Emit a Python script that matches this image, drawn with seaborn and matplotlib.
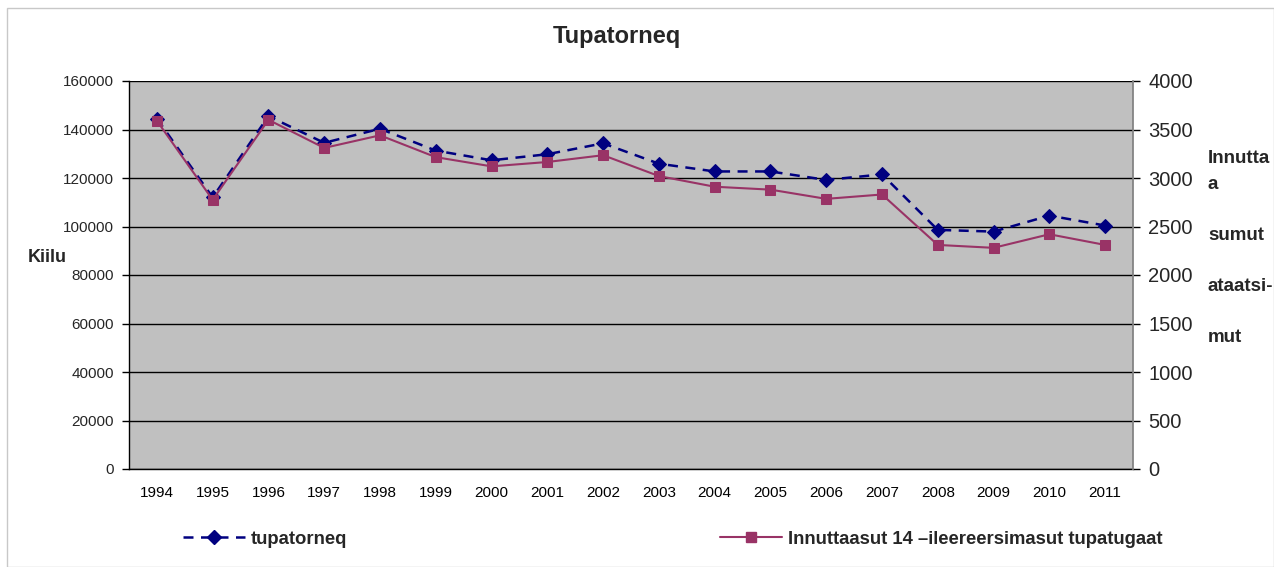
import numpy as np
import pandas as pd
import matplotlib
matplotlib.use("Agg")
import matplotlib.pyplot as plt
import seaborn as sns
from matplotlib.lines import Line2D
from matplotlib.patches import Rectangle

years = [str(y) for y in range(1994, 2012)]
tupatorneq = [144500, 112000, 145500, 134500, 140300, 131300, 127300, 129800, 134300,
              125900, 122700, 122700, 119200, 121500, 98600, 97900, 104500, 100400]
innuttaasut = [3590, 2775, 3600, 3310, 3440, 3215, 3120, 3165, 3235,
               3020, 2910, 2880, 2785, 2830, 2310, 2280, 2420, 2310]

name_left = "tupatorneq"
name_right = "Innuttaasut 14 \u2013ileereersimasut tupatugaat"

df = pd.DataFrame({"year": years, "x": np.arange(len(years)),
                   "left": tupatorneq, "right": innuttaasut})

sns.set_theme(style="white")
plt.rcParams["font.family"] = ["Liberation Sans", "DejaVu Sans"]

fig = plt.figure(figsize=(12.74, 5.67), dpi=100)
ax = fig.add_axes([129 / 1274, 1 - 469 / 567, 1004 / 1274, 388 / 567])
ax.set_facecolor("#c0c0c0")

blue = "#000080"
pink = "#993366"

sns.lineplot(data=df, x="x", y="left", ax=ax, color=blue, marker="D", markersize=7,
             markeredgecolor=blue, linewidth=1.8, legend=False)
ax.lines[-1].set_dashes((4, 3))

ax.set_ylim(0, 160000)
ax.set_yticks(np.arange(0, 160001, 20000))
ax.set_xlim(-0.5, len(years) - 0.5)
ax.set_xticks(df["x"])
ax.set_xticklabels(years)
ax.set_xticks(np.arange(-0.5, len(years), 1), minor=True)
ax.tick_params(axis="x", which="major", length=0, labelsize=11, pad=12, colors="black")
ax.tick_params(axis="x", which="minor", length=5, width=1, color="black", direction="out")
ax.tick_params(axis="y", length=5, width=1, color="black", direction="out", labelsize=11, pad=6)
ax.grid(axis="y", color="black", linewidth=1)
ax.set_axisbelow(True)
ax.set_xlabel("")
ax.set_ylabel("")
for s in ["top", "right"]:
    ax.spines[s].set_visible(False)
for s in ["left", "bottom"]:
    ax.spines[s].set_color("black")
    ax.spines[s].set_linewidth(1)

ax2 = ax.twinx()
sns.lineplot(data=df, x="x", y="right", ax=ax2, color=pink, marker="s", markersize=7,
             markeredgecolor=pink, linewidth=1.5, legend=False)
ax2.set_ylim(0, 4000)
ax2.set_yticks(np.arange(0, 4001, 500))
ax2.tick_params(axis="y", length=5, width=1, color="black", direction="out", labelsize=14.5, pad=6)
ax2.set_ylabel("")
ax2.set_xlabel("")
ax2.spines["right"].set_color("#808080")
ax2.spines["top"].set_visible(False)
ax2.spines["left"].set_visible(False)
ax2.spines["bottom"].set_visible(False)

fig.text(617 / 1274, 1 - 37 / 567, "Tupatorneq", ha="center", va="center",
         fontsize=17, fontweight="bold")
fig.text(28 / 1274, 1 - 258 / 567, "Kiilu", ha="left", va="center",
         fontsize=13, fontweight="bold")
fig.text(1208 / 1274, 1 - 150 / 567, "Innutta\na\n\nsumut\n\nataatsi-\n\nmut",
         ha="left", va="top", fontsize=13.5, fontweight="bold", linespacing=1.66)

h1 = Line2D([], [], color=blue, marker="D", markersize=7, linewidth=1.8, dashes=(4, 3))
h2 = Line2D([], [], color=pink, marker="s", markersize=7, linewidth=1.5)
leg_font = {"weight": "bold", "size": 13.3}
fig.legend([h1], [name_left], loc="center left", bbox_to_anchor=(166 / 1274, 1 - 539 / 567),
           frameon=False, handlelength=3.4, handletextpad=0.3, prop=leg_font)
fig.legend([h2], [name_right], loc="center left", bbox_to_anchor=(703 / 1274, 1 - 539 / 567),
           frameon=False, handlelength=3.4, handletextpad=0.3, prop=leg_font)

fig.patches.append(Rectangle((7 / 1274, 0), 1 - 7 / 1274, 1 - 8 / 567, transform=fig.transFigure,
                             fill=False, edgecolor="#c8c8c8", linewidth=1))

fig.savefig("out.png", dpi=100)
